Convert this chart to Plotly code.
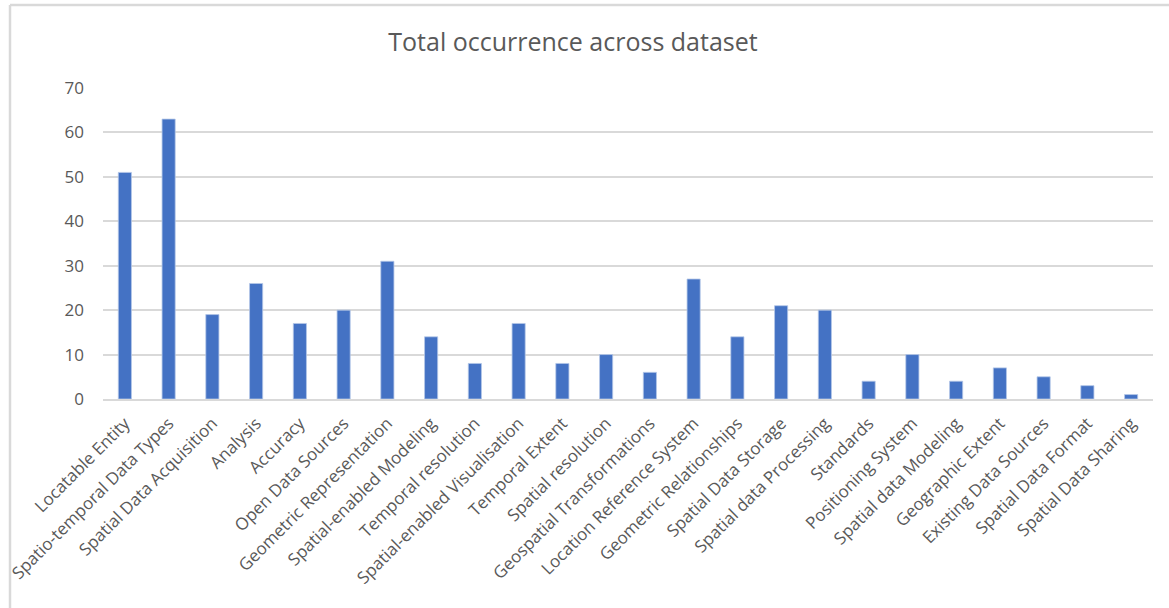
import plotly.graph_objects as go

categories = [
    "Locatable Entity", "Spatio-temporal Data Types", "Spatial Data Acquisition",
    "Analysis", "Accuracy", "Open Data Sources", "Geometric Representation",
    "Spatial-enabled Modeling", "Temporal resolution", "Spatial-enabled Visualisation",
    "Temporal Extent", "Spatial resolution", "Geospatial Transformations",
    "Location Reference System", "Geometric Relationships", "Spatial Data Storage",
    "Spatial data Processing", "Standards", "Positioning System",
    "Spatial data Modeling", "Geographic Extent", "Existing Data Sources",
    "Spatial Data Format", "Spatial Data Sharing",
]
occurrences = [51, 63, 19, 26, 17, 20, 31, 14, 8, 17, 8, 10, 6, 27, 14, 21, 20, 4, 10, 4, 7, 5, 3, 1]
y_ticks = [0, 10, 20, 30, 40, 50, 60, 70]

W, H = 1169, 608
L, R, T, B = 103, 16, 88, 209
pw, ph = W - L - R, H - T - B

text_color = "#595959"
grid_color = "#d9d9d9"
font_family = "Open Sans, Noto Sans, sans-serif"

fig = go.Figure(
    go.Bar(
        x=categories,
        y=occurrences,
        marker=dict(color="#4472C4", line=dict(color="#b4c7e7", width=0.8)),
        width=0.3,
    )
)

# chart frame (top and left edges of the outer border)
bx = (10 - L) / pw
by = 1 + (T - 5) / ph
fig.add_shape(type="line", xref="paper", yref="paper", x0=bx, x1=(W - L) / pw, y0=by, y1=by,
              line=dict(color=grid_color, width=2.5))
fig.add_shape(type="line", xref="paper", yref="paper", x0=bx, x1=bx, y0=by, y1=-B / ph,
              line=dict(color=grid_color, width=2.5))

fig.update_layout(
    width=W,
    height=H,
    margin=dict(l=L, r=R, t=T, b=B, autoexpand=False),
    paper_bgcolor="white",
    plot_bgcolor="white",
    showlegend=False,
    font=dict(family=font_family, color=text_color),
    title=dict(
        text="Total occurrence across dataset",
        x=573 / W,
        xanchor="center",
        y=1 - 42 / H,
        yanchor="middle",
        font=dict(size=25, color=text_color, family=font_family),
    ),
    xaxis=dict(
        tickangle=-45,
        tickfont=dict(size=17, color=text_color),
        showgrid=False,
        showline=True,
        linecolor=grid_color,
        linewidth=1.5,
        ticks="",
        ticklabelstandoff=6,
        automargin=False,
    ),
    yaxis=dict(
        range=[0, 70],
        tickvals=y_ticks,
        tickfont=dict(size=17, color=text_color),
        showgrid=True,
        gridcolor=grid_color,
        gridwidth=1.5,
        zeroline=False,
        showline=False,
        ticks="",
        ticklabelstandoff=18,
        automargin=False,
    ),
)

fig.write_html("out.html")
